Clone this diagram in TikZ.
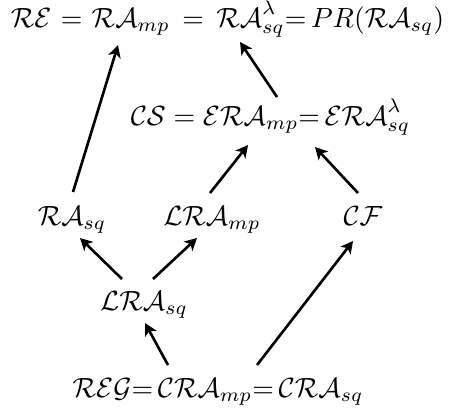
\documentclass[tikz,border=0pt]{standalone}
\usetikzlibrary{arrows.meta}
\begin{document}
\begin{tikzpicture}[x=0.36pt,y=-0.36pt,
  lbl/.style={inner sep=0pt,anchor=base},
  arr/.style={line width=0.95pt,-{Stealth[length=4.4pt,width=4.6pt,inset=1.2pt]}}]
\useasboundingbox (0,0) rectangle (453,417);
\node[lbl] (top) at (227.5,27) {$\mathcal{RE} \mskip1mu=\mskip1mu \mathcal{RA}_{mp} \mskip3mu=\mskip3mu \mathcal{RA}^{\lambda}_{sq}{=}\,PR(\mathcal{RA}_{sq})$};
\node[lbl] (cs) at (270.5,125) {$\mathcal{CS} = \mathcal{ERA}_{mp}{=}\,\mathcal{ERA}^{\lambda}_{sq}$};
\node[lbl] (rasq) at (72,225) {$\mathcal{RA}_{sq}$};
\node[lbl] (lramp) at (212,225) {$\mathcal{LRA}_{mp}$};
\node[lbl] (cf) at (363,225) {$\mathcal{CF}$};
\node[lbl] (lrasq) at (144,310) {$\mathcal{LRA}_{sq}$};
\node[lbl] (reg) at (218,397) {$\mathcal{REG}{=}\,\mathcal{CRA}_{mp}{=}\,\mathcal{CRA}_{sq}$};
\coordinate (t1) at (118,45);
\coordinate (t2) at (240,42);
\coordinate (c1) at (248,145);
\coordinate (c2) at (315,147);
\coordinate (r1) at (73,192);
\coordinate (r2) at (80,238);
\coordinate (m1) at (210,193);
\coordinate (m2) at (197,238);
\coordinate (f1) at (358,193);
\coordinate (f2) at (353,241);
\coordinate (s1) at (277,97);
\coordinate (q1) at (122,279);
\coordinate (q2) at (153,279);
\coordinate (q3) at (145,323);
\coordinate (g1) at (168,365);
\coordinate (g2) at (257,365);
\draw[arr] (r1) -- (t1);
\draw[arr] (s1) -- (t2);
\draw[arr] (m1) -- (c1);
\draw[arr] (f1) -- (c2);
\draw[arr] (q1) -- (r2);
\draw[arr] (q2) -- (m2);
\draw[arr] (g1) -- (q3);
\draw[arr] (g2) -- (f2);
\end{tikzpicture}
\end{document}
